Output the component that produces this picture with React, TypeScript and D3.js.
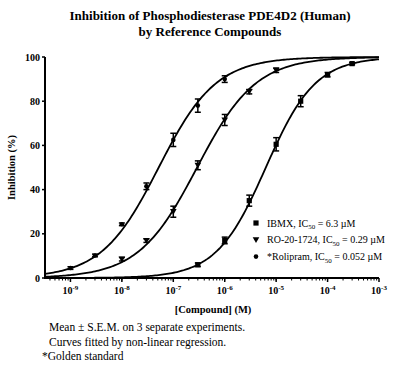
import React from 'react';
import * as d3 from 'd3';

// Concentrations (M) and inhibition (%)
const rolipramConc = [1e-9, 3e-9, 1e-8, 3e-8, 1e-7, 3e-7, 1e-6];
const rolipramMean = [4.5, 10.2, 24.3, 41.5, 62.5, 78, 90];
const rolipramSem = [0.6, 0.6, 0.6, 1.5, 3, 3, 1.5];

const roConc = [1e-8, 3e-8, 1e-7, 3e-7, 1e-6, 3e-6, 1e-5];
const roMean = [8.5, 16.9, 30, 51, 71.5, 84.3, 94];
const roSem = [0.8, 0.8, 2.5, 2, 2.5, 1, 1];

const ibmxConc = [3e-7, 1e-6, 3e-6, 1e-5, 3e-5, 1e-4, 3e-4];
const ibmxMean = [6, 17, 35, 60.5, 80, 92, 97];
const ibmxSem = [0.8, 1.5, 2.5, 3, 2.5, 1, 0.5];

// fitted parameters (IC50 in M, hill slope)
const compoundNames = ['IBMX', 'RO-20-1724', '*Rolipram'];
const ic50Values = [6.3e-6, 2.9e-7, 5.2e-8];
const ic50Labels = ['6.3', '0.29', '0.052'];
const hillSlopes = [0.9, 0.76, 0.78];

const yTicks = [0, 20, 40, 60, 80, 100];
const xDecades = [-9, -8, -7, -6, -5, -4, -3];

const W = 400;
const H = 375;
const margin = { left: 45, right: 21, top: 57, bottom: 97 };

const x = d3.scaleLog().domain([3.2e-10, 1e-3]).range([margin.left, W - margin.right]);
const y = d3.scaleLinear().domain([0, 100]).range([H - margin.bottom, margin.top]);

const fitCurve = (ic50: number, hill: number) => {
  const [lo, hi] = x.domain();
  const pts = d3.range(0, 201).map(i => {
    const c = Math.pow(10, Math.log10(lo) + (Math.log10(hi) - Math.log10(lo)) * i / 200);
    return [c, 100 / (1 + Math.pow(ic50 / c, hill))] as [number, number];
  });
  return d3.line<[number, number]>().x(d => x(d[0])).y(d => y(d[1]))(pts) || '';
};

const font = "'Liberation Serif', 'Times New Roman', serif";

const Marker = ({ kind, cx, cy }: { kind: string; cx: number; cy: number }) => {
  if (kind === 'square') return <rect x={cx - 2.6} y={cy - 2.6} width={5.2} height={5.2} fill="#000" />;
  if (kind === 'tri') return <path d={`M${cx - 3.3},${cy - 2.6}L${cx + 3.3},${cy - 2.6}L${cx},${cy + 3.2}Z`} fill="#000" />;
  return <circle cx={cx} cy={cy} r={2.3} fill="#000" />;
};

const Series = ({ conc, mean, sem, kind }: { conc: number[]; mean: number[]; sem: number[]; kind: string }) => (
  <g>
    {conc.map((c, i) => {
      const cx = x(c);
      const t = y(mean[i] + sem[i]);
      const b = y(mean[i] - sem[i]);
      return (
        <g key={i}>
          <line x1={cx} x2={cx} y1={t} y2={b} stroke="#000" strokeWidth={1.5} />
          <line x1={cx - 3} x2={cx + 3} y1={t} y2={t} stroke="#000" strokeWidth={1.5} />
          <line x1={cx - 3} x2={cx + 3} y1={b} y2={b} stroke="#000" strokeWidth={1.5} />
          <Marker kind={kind} cx={cx} cy={y(mean[i])} />
        </g>
      );
    })}
  </g>
);

export default function App() {
  const y0 = y(0);
  const minorTicks: number[] = [];
  for (let d = -10; d < -3; d++) {
    for (let m = 1; m < 10; m++) {
      const v = m * Math.pow(10, d);
      if (v >= x.domain()[0] && v <= 1e-3) minorTicks.push(v);
    }
  }
  const kinds = ['square', 'tri', 'circle'];
  return (
    <svg width={W} height={H} style={{ position: 'absolute', left: 0, top: 0, background: '#fff', fontFamily: font }}>
      <text x={210} y={20} textAnchor="middle" fontSize={13} fontWeight="bold">Inhibition of Phosphodiesterase PDE4D2 (Human)</text>
      <text x={210} y={36} textAnchor="middle" fontSize={13} fontWeight="bold">by Reference Compounds</text>

      {/* fitted curves */}
      {ic50Values.map((ic, i) => (
        <path key={i} d={fitCurve(ic, hillSlopes[i])} fill="none" stroke="#000" strokeWidth={1.8} />
      ))}

      <Series conc={ibmxConc} mean={ibmxMean} sem={ibmxSem} kind="square" />
      <Series conc={roConc} mean={roMean} sem={roSem} kind="tri" />
      <Series conc={rolipramConc} mean={rolipramMean} sem={rolipramSem} kind="circle" />

      {/* y axis */}
      <line x1={margin.left} x2={margin.left} y1={y(100)} y2={y0 + 1} stroke="#000" strokeWidth={2} />
      {yTicks.map(t => (
        <g key={t}>
          <line x1={margin.left - 3} x2={margin.left} y1={y(t)} y2={y(t)} stroke="#000" strokeWidth={1.5} />
          <text x={margin.left - 5} y={y(t) + 3.5} textAnchor="end" fontSize={10} fontWeight="bold">{t}</text>
        </g>
      ))}
      <text transform={`translate(15,${y(50)}) rotate(-90)`} textAnchor="middle" fontSize={10.5} fontWeight="bold">Inhibition (%)</text>

      {/* x axis */}
      <line x1={margin.left - 1} x2={x(1e-3)} y1={y0} y2={y0} stroke="#000" strokeWidth={2} />
      {minorTicks.map((v, i) => (
        <line key={i} x1={x(v)} x2={x(v)} y1={y0} y2={y0 + 2.5} stroke="#000" strokeWidth={1} />
      ))}
      {xDecades.map(d => (
        <g key={d}>
          <line x1={x(Math.pow(10, d))} x2={x(Math.pow(10, d))} y1={y0} y2={y0 + 4} stroke="#000" strokeWidth={1.5} />
          <text x={x(Math.pow(10, d))} y={y0 + 16} textAnchor="middle" fontSize={10} fontWeight="bold">
            10<tspan dy={-4} fontSize={7}>{d}</tspan>
          </text>
        </g>
      ))}
      <text x={213} y={y0 + 35} textAnchor="middle" fontSize={10.5} fontWeight="bold">[Compound] (M)</text>

      {/* legend */}
      {compoundNames.map((n, i) => {
        const ly = 223 + i * 16.8;
        return (
          <g key={n}>
            <Marker kind={kinds[i]} cx={256} cy={ly} />
            <text x={267} y={ly + 3.5} fontSize={10}>
              {n}, IC<tspan dy={2.5} fontSize={7}>50</tspan><tspan dy={-2.5}> = {ic50Labels[i]} µM</tspan>
            </text>
          </g>
        );
      })}

      {/* footnotes */}
      <text x={49} y={331} fontSize={11.5}>Mean ±  S.E.M. on 3 separate experiments.</text>
      <text x={49} y={345.5} fontSize={11.5}>Curves fitted by non-linear regression.</text>
      <text x={42} y={359.5} fontSize={11.5}>*Golden standard</text>
    </svg>
  );
}
